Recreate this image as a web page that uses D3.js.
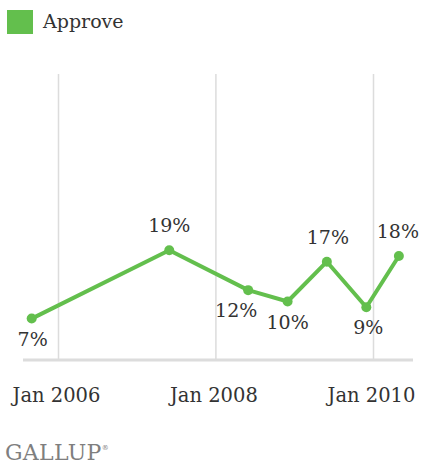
<!DOCTYPE html>
<html>
<head>
<meta charset="utf-8">
<script src="https://cdn.jsdelivr.net/npm/d3@7"></script>
<style>
  html, body { margin: 0; padding: 0; background: #fff; }
  svg { display: block; }
  text { font-family: "DejaVu Serif", Georgia, serif; fill: #333; }
</style>
</head>
<body>
<svg id="chart" width="423" height="468"></svg>
<script>
// Survey dates and approval percentages
const dates = ["2005-09-01", "2007-06-01", "2008-06-01", "2008-12-01", "2009-06-01", "2009-12-01", "2010-05-01"];
const approve = [7, 19, 12, 10, 17, 9, 18];
// Where each value label sits relative to its point
const labelSide = ["below", "above", "below", "below", "above", "below", "above"];
const labelShift = [1, 0, -12, 0, 1, 2, -1];
const tickDates = ["2006-01-01", "2008-01-01", "2010-01-01"];
const seriesName = "Approve";

const green = "#63bf4d";
const parse = d3.timeParse("%Y-%m-%d");
const data = dates.map((d, i) => ({ date: parse(d), value: approve[i], side: labelSide[i], shift: labelShift[i] }));

const svg = d3.select("#chart");

const x = d3.scaleTime()
  .domain([parse("2006-01-01"), parse("2010-01-01")])
  .range([58, 373]);
const y = d3.scaleLinear().domain([0, 50]).range([358.4, 74]);

const axisY = 360;

// Legend
const legend = svg.append("g").attr("transform", "translate(7,10)");
legend.append("rect").attr("width", 26).attr("height", 24).attr("fill", green);
legend.append("text").attr("x", 36).attr("y", 18).attr("font-size", 19).text(seriesName);

// Vertical gridlines and year labels
const xAxis = d3.axisBottom(x)
  .tickValues(tickDates.map(parse))
  .tickFormat(d3.timeFormat("Jan %Y"))
  .tickSizeInner(-(axisY - 74))
  .tickSizeOuter(0)
  .tickPadding(28);

const gx = svg.append("g").attr("transform", `translate(0,${axisY})`).call(xAxis);
gx.select(".domain").remove();
gx.selectAll(".tick line").attr("stroke", "#dcdcdc").attr("stroke-width", 1.5);
gx.selectAll(".tick text")
  .attr("font-family", "DejaVu Serif, Georgia, serif")
  .attr("font-size", 19.5)
  .attr("fill", "#333")
  .attr("dx", -2);

// Baseline
svg.append("line")
  .attr("x1", 23).attr("x2", 413)
  .attr("y1", axisY).attr("y2", axisY)
  .attr("stroke", "#dcdcdc").attr("stroke-width", 3);

// Approval line
const line = d3.line().x(d => x(d.date)).y(d => y(d.value));
svg.append("path")
  .datum(data)
  .attr("d", line)
  .attr("fill", "none")
  .attr("stroke", green)
  .attr("stroke-width", 4)
  .attr("stroke-linejoin", "round");

svg.selectAll("circle.pt")
  .data(data)
  .join("circle")
  .attr("class", "pt")
  .attr("cx", d => x(d.date))
  .attr("cy", d => y(d.value))
  .attr("r", 5)
  .attr("fill", green);

// Value labels
svg.selectAll("text.val")
  .data(data)
  .join("text")
  .attr("class", "val")
  .attr("x", d => x(d.date) + d.shift)
  .attr("y", d => y(d.value) + (d.side === "above" ? -18 : 27))
  .attr("text-anchor", "middle")
  .attr("font-size", 19)
  .text(d => d.value + "%");

// Source mark
const logo = svg.append("text")
  .attr("x", 5).attr("y", 460)
  .attr("font-family", "Liberation Serif, Times New Roman, serif")
  .attr("font-size", 22)
  .attr("letter-spacing", 0.3)
  .style("fill", "#7f7f7f");
logo.append("tspan").text("GALLUP");
logo.append("tspan").attr("font-size", 7).attr("dy", -10).text("®");
</script>
</body>
</html>
